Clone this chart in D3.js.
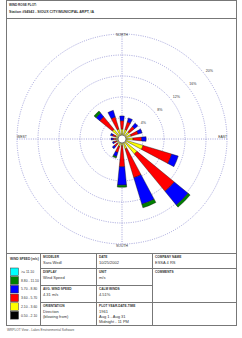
<!DOCTYPE html>
<html><head><meta charset="utf-8">
<script src="https://cdn.jsdelivr.net/npm/d3@7"></script>
<style>body{margin:0;background:#fff}svg{display:block}text{font-family:"Liberation Sans",Arial,sans-serif}</style>
</head><body>
<script>
const directions = ["N","NNE","NE","ENE","E","ESE","SE","SSE","S","SSW","SW","WSW","W","WNW","NW","NNW"];
const speedLabels = ["0.50 - 2.10","2.10 - 3.60","3.60 - 5.70","5.70 - 8.80","8.80 - 11.10",">= 11.10"];
const speedColors = ["#000000","#ffff00","#ff0000","#0000ff","#008000","#00ffff"];
// frequency (%) per direction for each speed class
const s1 = [0.3,0.3,0.3,0.3,0.3,0.3,0.3,0.3,0.3,0.3,0.3,0.3,0.3,0.3,0.3,0.3];
const s2 = [1.6,1.6,1.5,1.5,1.8,3.9,3.4,1.7,1.0,1.2,0.9,0.8,0.9,1.0,2.1,1.7];
const s3 = [1.6,1.5,1.3,1.4,1.65,5.7,9.2,5.7,4.0,1.2,0.7,0.5,0.5,0.6,3.1,2.4];
const s4 = [0.9,0.8,0.8,0.8,0.85,1.3,3.4,5.3,3.5,0.8,0.5,0.3,0.4,0.4,0.9,1.3];
const s5 = [0,0,0,0,0,0,0.5,0.7,0.4,0.3,0,0,0,0,0.5,0];
const s6 = [0,0,0,0,0,0,0,0,0,0,0,0,0,0,0,0];
const series = [s1,s2,s3,s4,s5,s6];
const ringValues = [4,8,12,16,20];
const ringLabels = ["4%","8%","12%","16%","20%"];
const compassLabels = ["NORTH","EAST","SOUTH","WEST"];
const titleText = "WIND ROSE PLOT:";
const stationText = "Station #94943 - SIOUX CITY/MUNICIPAL ARPT, IA";
const tableCells = [
  {h:"MODELER", v:["Sara Wedl"]},
  {h:"DATE", v:["10/25/2002"]},
  {h:"COMPANY NAME", v:["ESSA 4 RS"]},
  {h:"DISPLAY", v:["Wind Speed"]},
  {h:"UNIT", v:["m/s"]},
  {h:"COMMENTS", v:[]},
  {h:"AVG. WIND SPEED", v:["4.31 m/s"]},
  {h:"CALM WINDS", v:["4.51%"]},
  {h:"ORIENTATION", v:["Direction","(blowing from)"]},
  {h:"PLOT YEAR-DATE-TIME", v:["1961","Aug 1 - Aug 31","Midnight - 11 PM"]}
];
const legendTitle = "WIND SPEED (m/s)";
const footerText = "WRPLOT View - Lakes Environmental Software";

const W=242,H=338;
const svg=d3.select("body").append("svg").attr("width",W).attr("height",H);

// frame
const L=6.5,R=236.5,T=0.5,B=325.5;
svg.append("rect").attr("x",L).attr("y",T).attr("width",R-L).attr("height",B-T).attr("fill","none").attr("stroke","#777").attr("stroke-width",1);
svg.append("line").attr("x1",L).attr("x2",R).attr("y1",18.5).attr("y2",18.5).attr("stroke","#777");
svg.append("text").attr("x",9).attr("y",5.5).attr("font-size",3.1).attr("font-weight","bold").attr("fill","#333").text(titleText);
svg.append("text").attr("x",9).attr("y",12.5).attr("font-size",3.6).attr("font-weight","bold").attr("fill","#333").text(stationText);

// rose
const cx=122, cy=139;
const r=d3.scaleLinear().domain([0,20]).range([0,105]);
const ang=d3.scaleBand().domain(directions).range([0,2*Math.PI]);
const g=svg.append("g").attr("transform",`translate(${cx},${cy})`);
const gridCol="#8c8cd0";
g.selectAll("circle.ring").data(ringValues).join("circle").attr("class","ring")
 .attr("r",d=>r(d)).attr("fill","none").attr("stroke",gridCol).attr("stroke-width",0.8).attr("stroke-dasharray","1,1.3");
g.append("line").attr("x1",-r(20)).attr("x2",r(20)).attr("y1",0).attr("y2",0).attr("stroke",gridCol).attr("stroke-width",0.8).attr("stroke-dasharray","1,1.3");
g.append("line").attr("y1",-r(20)).attr("y2",r(20)).attr("x1",0).attr("x2",0).attr("stroke",gridCol).attr("stroke-width",0.8).attr("stroke-dasharray","1,1.3");
const la=52*Math.PI/180;
g.selectAll("text.rl").data(ringValues).join("text").attr("class","rl")
 .attr("x",(d,i)=>Math.sin(la)*(r(d)+6)).attr("y",(d,i)=>-Math.cos(la)*(r(d)+6)+1.5)
 .attr("font-size",3.6).attr("fill","#333").attr("text-anchor","middle").text((d,i)=>ringLabels[i]);
g.append("text").attr("x",0).attr("y",-r(20)+2).attr("font-size",3.4).attr("fill","#333").attr("text-anchor","middle").text(compassLabels[0]);
g.append("text").attr("x",0).attr("y",r(20)+2.5).attr("font-size",3.4).attr("fill","#333").attr("text-anchor","middle").text(compassLabels[2]);
g.append("text").attr("x",-r(20)).attr("y",-1.2).attr("font-size",3.4).attr("fill","#333").attr("text-anchor","start").text(compassLabels[3]);
g.append("text").attr("x",r(20)).attr("y",-1.2).attr("font-size",3.4).attr("fill","#333").attr("text-anchor","end").text(compassLabels[1]);

const halfW=5.6*Math.PI/180;
const arc=d3.arc();
directions.forEach((d,i)=>{
  const c=ang(d); // centre bearing
  let cum=0;
  series.forEach((s,k)=>{
    const v=s[i]; if(!v) return;
    g.append("path").attr("d",arc({innerRadius:r(cum),outerRadius:r(cum+v),startAngle:c-halfW,endAngle:c+halfW}))
     .attr("fill",speedColors[k]).attr("stroke","#111").attr("stroke-width",0.4);
    cum+=v;
  });
});
g.append("circle").attr("r",4).attr("fill","#fff").attr("stroke","#333").attr("stroke-width",0.6);

// table
const tT=253.5, rows=[253.5,268.5,285.5,302.5,325.5], cols=[6.5,40.5,96.5,152.5,236.5];
const ln=(x1,y1,x2,y2)=>svg.append("line").attr("x1",x1).attr("y1",y1).attr("x2",x2).attr("y2",y2).attr("stroke","#777").attr("stroke-width",1);
ln(L,tT,R,tT);
[40.5,96.5,152.5].forEach(x=>ln(x,tT,x,B));
ln(40.5,268.5,236.5,268.5);
ln(40.5,285.5,152.5,285.5);
ln(40.5,302.5,236.5,302.5);
const cellPos=[[1,0],[2,0],[3,0],[1,1],[2,1],[3,1],[1,2],[2,2],[1,3],[2,3]];
tableCells.forEach((c,i)=>{
  const [ci,ri]=cellPos[i];
  const x=cols[ci]+2.5, y=rows[ri];
  svg.append("text").attr("x",x).attr("y",y+4).attr("font-size",3.2).attr("font-weight","bold").attr("fill","#333").text(c.h);
  c.v.forEach((t,j)=>svg.append("text").attr("x",x).attr("y",y+10+j*5).attr("font-size",4.0).attr("fill","#333").text(t));
});
svg.append("text").attr("x",10).attr("y",260).attr("font-size",3.2).attr("font-weight","bold").attr("fill","#333").text(legendTitle);
const lg=svg.append("g");
const order=d3.range(speedLabels.length).reverse();
order.forEach((k,j)=>{
  const y=268+j*8.7;
  lg.append("rect").attr("x",10.5).attr("y",y).attr("width",8).attr("height",7.6).attr("fill",speedColors[k]).attr("stroke","#333").attr("stroke-width",0.5);
  lg.append("text").attr("x",21).attr("y",y+5).attr("font-size",3.4).attr("fill","#333").text(speedLabels[k]);
});
svg.append("text").attr("x",7).attr("y",330.5).attr("font-size",3.2).attr("fill","#555").text(footerText);
</script>
</body></html>
